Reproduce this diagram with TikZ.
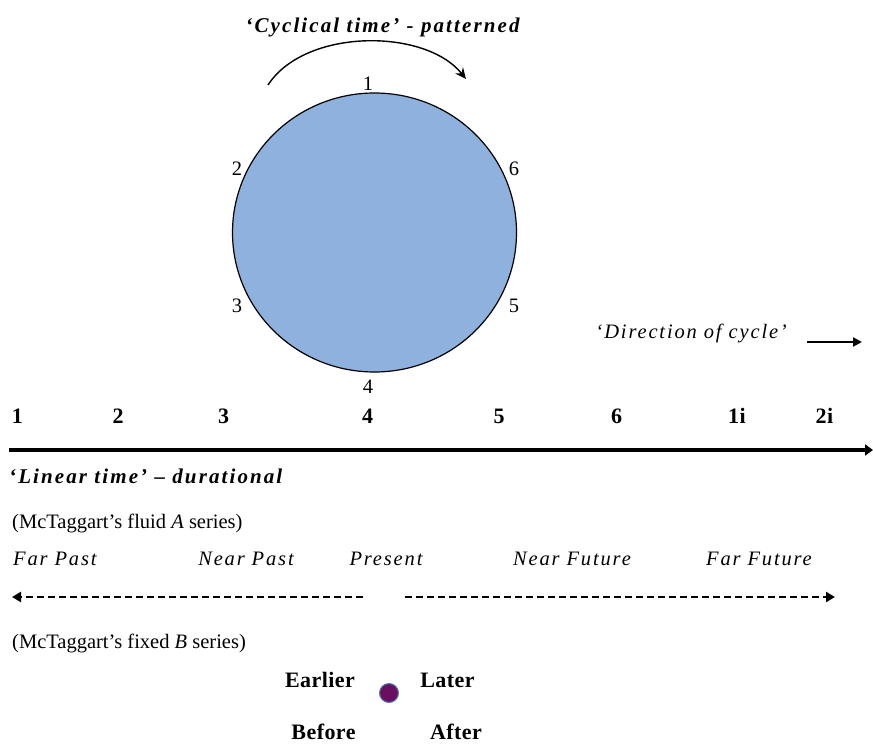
\documentclass[tikz,border=0pt]{standalone}
\usepackage{fontspec}
\setmainfont{Liberation Serif}
\usetikzlibrary{arrows.meta,shapes.geometric}
\definecolor{circfill}{HTML}{8EB1DD}
\definecolor{dotfill}{HTML}{6A0F5E}
\definecolor{dotline}{HTML}{4F81BD}
\begin{document}
\begin{tikzpicture}[x=1pt,y=-1pt,
  lbl/.style={font=\fontsize{20.5}{24}\selectfont, inner sep=0pt, anchor=base},
  bnum/.style={font=\fontsize{22}{26}\selectfont\bfseries\addfontfeature{LetterSpace=2}, inner sep=0pt, anchor=base},
  ital/.style={font=\fontsize{20.5}{24}\selectfont\itshape\addfontfeature{LetterSpace=9}, inner sep=0pt, anchor=base},
  bital/.style={font=\fontsize{21}{25}\selectfont\bfseries\itshape\addfontfeature{LetterSpace=10}, inner sep=0pt, anchor=base},
]
\useasboundingbox (0,0) rectangle (873,744);
% cycle
\node[ellipse, draw=black, fill=circfill, line width=1.2pt, minimum width=284pt, minimum height=279pt, inner sep=0pt] (circ) at (374.5,232.5) {};
\node[lbl] (c1) at (368,90) {1};
\node[lbl] (c2) at (237,175) {2};
\node[lbl] (c6) at (514,175) {6};
\node[lbl] (c3) at (237,312) {3};
\node[lbl] (c5) at (514,312) {5};
\node[lbl] (c4) at (368,393) {4};
\node[bital] (title) at (382.5,32) {‘Cyclical time’ - patterned};
\coordinate (arcs) at (268,85);
\coordinate (arce) at (466,79);
\draw[line width=1.4pt, -{Stealth[length=11pt,width=10pt]}] (arcs) .. controls (305,28) and (425,28) .. (arce);
% direction
\node[ital, anchor=base east] (dir) at (787,338) {‘Direction of cycle’};
\coordinate (dirs) at (807,342);
\coordinate (dire) at (862,342);
\draw[line width=2pt, -{Triangle[length=9pt,width=9pt]}] (dirs) -- (dire);
% linear numbers
\node[bnum] (n1) at (17.5,423) {1};
\node[bnum] (n2) at (118,423) {2};
\node[bnum] (n3) at (223.5,423) {3};
\node[bnum] (n4) at (367.5,423) {4};
\node[bnum] (n5) at (499,423) {5};
\node[bnum] (n6) at (616.5,423) {6};
\node[bnum] (n7) at (737,423) {1i};
\node[bnum] (n8) at (824.5,423) {2i};
\coordinate (axs) at (9,450);
\coordinate (axe) at (873,450);
\draw[line width=4pt, -{Triangle[length=8pt,width=11pt]}] (axs) -- (axe);
\node[bital, anchor=base west] (lin) at (9,483) {‘Linear time’ – durational};
% A series
\node[lbl, anchor=base west] (aser) at (12,528) {(McTaggart’s fluid \textit{A} series)};
\node[ital, anchor=base west] (fp) at (13,565) {Far Past};
\node[ital] (np) at (246,565) {Near Past};
\node[ital] (pr) at (386,565) {Present};
\node[ital] (nf) at (572,565) {Near Future};
\node[ital] (ff) at (759,565) {Far Future};
\coordinate (l1) at (363,597);
\coordinate (l2) at (12,597);
\coordinate (r1) at (405,597);
\coordinate (r2) at (835,597);
\draw[line width=2.6pt, dash pattern=on 7pt off 4pt, -{Triangle[length=9pt,width=10pt]}] (l1) -- (l2);
\draw[line width=2.6pt, dash pattern=on 7pt off 4pt, -{Triangle[length=9pt,width=10pt]}] (r1) -- (r2);
% B series
\node[lbl, anchor=base west] (bser) at (12,648) {(McTaggart’s fixed \textit{B} series)};
\node[bnum] (ear) at (320,687) {Earlier};
\node[bnum] (lat) at (447.5,687) {Later};
\node[circle, fill=dotfill, draw=dotline, line width=1pt, minimum size=19pt, inner sep=0pt] (dot) at (389,693) {};
\node[bnum] (bef) at (323.5,739) {Before};
\node[bnum] (aft) at (456,739) {After};
\end{tikzpicture}
\end{document}
